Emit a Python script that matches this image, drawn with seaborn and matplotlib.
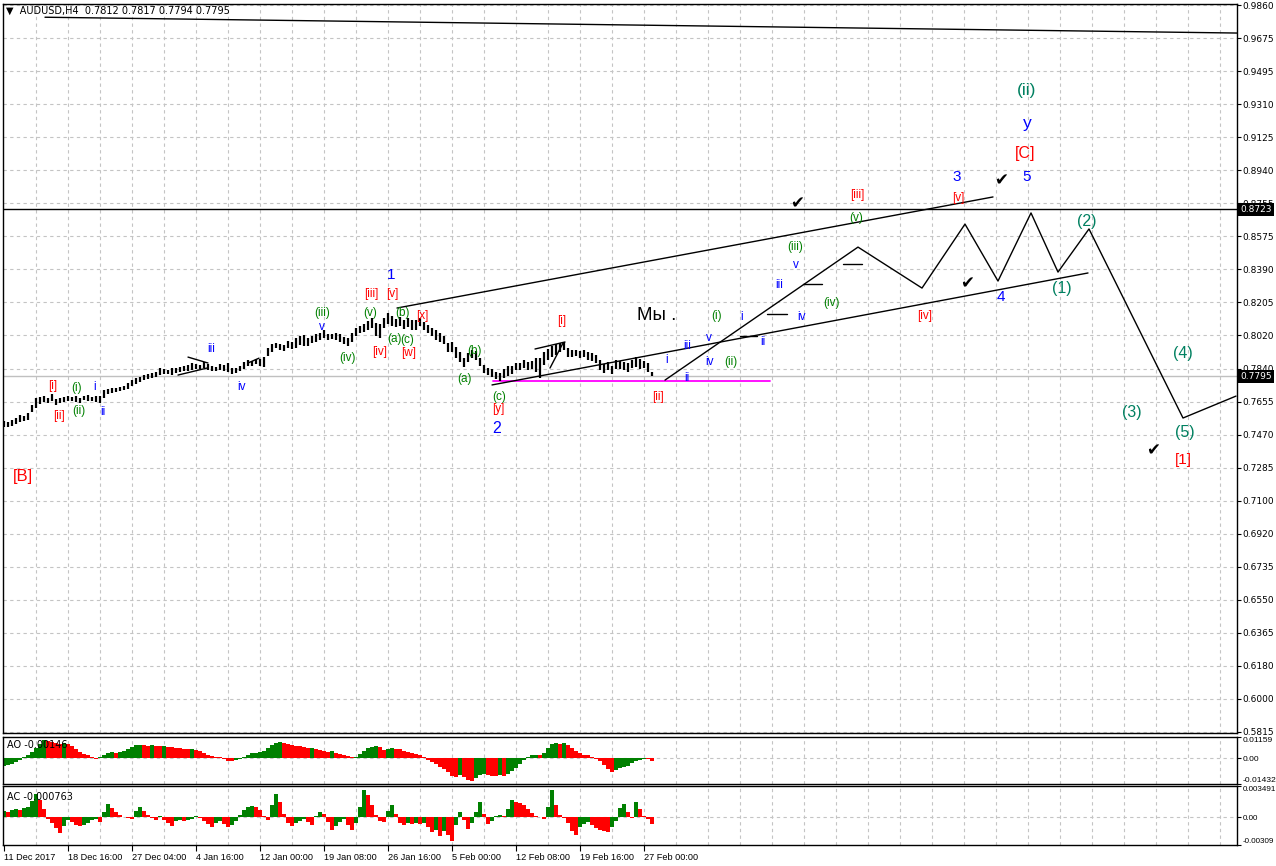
import numpy as np
import pandas as pd
import seaborn as sns
import matplotlib.pyplot as plt
from matplotlib import transforms

sns.set_theme(style='white')
plt.rcParams['font.family'] = ['Liberation Sans', 'DejaVu Sans']

# x axis: one unit = 2 H4 bars
date_labels = ['11 Dec 2017', '18 Dec 16:00', '27 Dec 04:00', '4 Jan 16:00', '12 Jan 00:00',
               '19 Jan 08:00', '26 Jan 16:00', '5 Feb 00:00', '12 Feb 08:00', '19 Feb 16:00',
               '27 Feb 00:00']
price_tick_labels = ['0.5815', '0.6000', '0.6180', '0.6365', '0.6550', '0.6735', '0.6920', '0.7100',
                     '0.7285', '0.7470', '0.7655', '0.7840', '0.8020', '0.8205', '0.8390', '0.8575',
                     '0.8755', '0.8940', '0.9125', '0.9310', '0.9495', '0.9675', '0.9860']

price_high = [0.7545, 0.7539, 0.7550, 0.7561, 0.7578, 0.7573, 0.7589, 0.7634, 0.7673, 0.7678,
              0.7684, 0.7673, 0.7695, 0.7667, 0.7673, 0.7678, 0.7684, 0.7678, 0.7684, 0.7673,
              0.7684, 0.7689, 0.7678, 0.7684, 0.7684, 0.7717, 0.7723, 0.7728, 0.7728, 0.7734,
              0.7740, 0.7756, 0.7773, 0.7784, 0.7790, 0.7801, 0.7806, 0.7812, 0.7817, 0.7840,
              0.7834, 0.7829, 0.7840, 0.7840, 0.7845, 0.7851, 0.7856, 0.7868, 0.7862, 0.7856,
              0.7873, 0.7862, 0.7851, 0.7845, 0.7862, 0.7856, 0.7868, 0.7840, 0.7840, 0.7851,
              0.7873, 0.7884, 0.7879, 0.7890, 0.7890, 0.7901, 0.7951, 0.7973, 0.7979, 0.7973,
              0.7968, 0.7990, 0.7985, 0.8007, 0.8018, 0.8024, 0.8007, 0.8018, 0.8029, 0.8035,
              0.8051, 0.8029, 0.8029, 0.8035, 0.8029, 0.8012, 0.8007, 0.8035, 0.8063, 0.8074,
              0.8085, 0.8102, 0.8118, 0.8090, 0.8085, 0.8118, 0.8146, 0.8129, 0.8113, 0.8124,
              0.8107, 0.8118, 0.8107, 0.8107, 0.8118, 0.8096, 0.8079, 0.8063, 0.8051, 0.8035,
              0.8018, 0.7979, 0.7985, 0.7957, 0.7929, 0.7895, 0.7923, 0.7940, 0.7934, 0.7895,
              0.7856, 0.7840, 0.7834, 0.7817, 0.7812, 0.7834, 0.7851, 0.7851, 0.7868, 0.7868,
              0.7884, 0.7873, 0.7879, 0.7895, 0.7895, 0.7929, 0.7946, 0.7962, 0.7973, 0.7979,
              0.7985, 0.7951, 0.7940, 0.7940, 0.7934, 0.7940, 0.7929, 0.7923, 0.7912, 0.7884,
              0.7862, 0.7873, 0.7851, 0.7884, 0.7879, 0.7873, 0.7868, 0.7884, 0.7901, 0.7890,
              0.7879, 0.7868, 0.7817]
price_low = [0.7511, 0.7511, 0.7517, 0.7528, 0.7539, 0.7545, 0.7550, 0.7595, 0.7617, 0.7639,
             0.7650, 0.7645, 0.7656, 0.7634, 0.7645, 0.7650, 0.7656, 0.7656, 0.7650, 0.7645,
             0.7662, 0.7656, 0.7656, 0.7650, 0.7645, 0.7673, 0.7695, 0.7701, 0.7706, 0.7712,
             0.7717, 0.7723, 0.7740, 0.7751, 0.7762, 0.7773, 0.7778, 0.7784, 0.7790, 0.7801,
             0.7806, 0.7806, 0.7801, 0.7812, 0.7817, 0.7823, 0.7823, 0.7829, 0.7834, 0.7834,
             0.7840, 0.7829, 0.7823, 0.7823, 0.7829, 0.7823, 0.7817, 0.7806, 0.7812, 0.7823,
             0.7834, 0.7851, 0.7851, 0.7862, 0.7851, 0.7845, 0.7907, 0.7929, 0.7951, 0.7940,
             0.7934, 0.7951, 0.7946, 0.7951, 0.7968, 0.7962, 0.7962, 0.7979, 0.7985, 0.7996,
             0.8007, 0.7996, 0.8001, 0.7996, 0.7985, 0.7973, 0.7962, 0.7985, 0.8018, 0.8035,
             0.8040, 0.8051, 0.8063, 0.8018, 0.8007, 0.8063, 0.8085, 0.8074, 0.8068, 0.8074,
             0.8057, 0.8068, 0.8051, 0.8051, 0.8074, 0.8051, 0.8035, 0.8018, 0.7996, 0.7985,
             0.7973, 0.7929, 0.7929, 0.7895, 0.7873, 0.7845, 0.7873, 0.7895, 0.7884, 0.7851,
             0.7812, 0.7801, 0.7790, 0.7778, 0.7767, 0.7784, 0.7795, 0.7806, 0.7829, 0.7829,
             0.7840, 0.7829, 0.7834, 0.7817, 0.7784, 0.7856, 0.7884, 0.7901, 0.7912, 0.7929,
             0.7940, 0.7901, 0.7901, 0.7907, 0.7895, 0.7901, 0.7884, 0.7879, 0.7868, 0.7829,
             0.7812, 0.7829, 0.7806, 0.7834, 0.7834, 0.7829, 0.7817, 0.7840, 0.7845, 0.7834,
             0.7840, 0.7817, 0.7794]

ao_values = [-0.0044, -0.0038, -0.0033, -0.0022, -0.0011, 0.0006, 0.0017, 0.0033, 0.0055, 0.0077,
             0.0099, 0.0094, 0.0088, 0.0083, 0.0080, 0.0083, 0.0077, 0.0066, 0.0050, 0.0033,
             0.0022, 0.0014, 0.0006, -0.0003, 0.0006, 0.0017, 0.0028, 0.0033, 0.0030, 0.0033,
             0.0039, 0.0050, 0.0061, 0.0072, 0.0074, 0.0072, 0.0069, 0.0072, 0.0069, 0.0066,
             0.0069, 0.0063, 0.0061, 0.0058, 0.0055, 0.0050, 0.0049, 0.0052, 0.0044, 0.0039,
             0.0028, 0.0017, 0.0011, 0.0006, 0.0003, -0.0006, -0.0014, -0.0017, -0.0011, -0.0006,
             0.0006, 0.0017, 0.0025, 0.0030, 0.0033, 0.0036, 0.0055, 0.0072, 0.0083, 0.0088,
             0.0083, 0.0077, 0.0072, 0.0069, 0.0066, 0.0061, 0.0055, 0.0058, 0.0052, 0.0044,
             0.0039, 0.0033, 0.0039, 0.0028, 0.0022, 0.0017, 0.0011, 0.0003, 0.0006, 0.0022,
             0.0039, 0.0055, 0.0063, 0.0066, 0.0061, 0.0044, 0.0050, 0.0055, 0.0052, 0.0047,
             0.0039, 0.0033, 0.0028, 0.0022, 0.0014, 0.0003, -0.0011, -0.0022, -0.0033, -0.0050,
             -0.0061, -0.0077, -0.0099, -0.0105, -0.0094, -0.0105, -0.0121, -0.0127, -0.0110, -0.0094,
             -0.0088, -0.0094, -0.0099, -0.0099, -0.0096, -0.0099, -0.0088, -0.0072, -0.0055, -0.0033,
             -0.0011, 0.0006, 0.0017, 0.0019, 0.0017, 0.0028, 0.0055, 0.0077, 0.0083, 0.0077,
             0.0083, 0.0072, 0.0055, 0.0039, 0.0028, 0.0019, 0.0014, 0.0006, -0.0006, -0.0017,
             -0.0039, -0.0061, -0.0077, -0.0066, -0.0055, -0.0050, -0.0044, -0.0028, -0.0017, -0.0011,
             -0.0006, -0.0008, -0.00146]

ac_values = [0.00067, 0.00056, 0.00078, 0.00089, 0.00078, 0.00100, 0.00112, 0.00178, 0.00256, 0.00190,
             0.00089, -0.00022, -0.00067, -0.00123, -0.00178, -0.00100, -0.00033, -0.00056, -0.00089, -0.00100,
             -0.00089, -0.00067, -0.00033, -0.00022, -0.00056, 0.00056, 0.00145, 0.00100, 0.00056, 0.00022,
             0.00006, -0.00011, -0.00022, 0.00067, 0.00112, 0.00067, 0.00022, -0.00011, -0.00033, 0.00011,
             -0.00033, -0.00067, -0.00100, -0.00045, -0.00033, -0.00045, -0.00033, -0.00022, 0.00011, -0.00011,
             -0.00045, -0.00078, -0.00112, -0.00067, -0.00045, -0.00078, -0.00112, -0.00089, -0.00045, 0.00022,
             0.00078, 0.00112, 0.00123, 0.00112, 0.00078, 0.00011, -0.00033, 0.00134, 0.00256, 0.00167,
             0.00033, -0.00067, -0.00100, -0.00067, -0.00045, -0.00022, -0.00056, -0.00089, 0.00011, 0.00056,
             0.00033, -0.00056, -0.00145, -0.00100, -0.00056, -0.00022, -0.00089, -0.00145, -0.00067, 0.00112,
             0.00301, 0.00245, 0.00134, 0.00022, -0.00045, -0.00056, 0.00067, 0.00134, 0.00033, -0.00067,
             -0.00089, -0.00067, -0.00078, -0.00067, -0.00078, -0.00067, -0.00112, -0.00167, -0.00145, -0.00212,
             -0.00156, -0.00201, -0.00268, -0.00089, 0.00056, -0.00033, -0.00134, -0.00067, 0.00056, 0.00167,
             0.00033, -0.00078, -0.00045, 0.00011, 0.00022, 0.00011, 0.00089, 0.00190, 0.00167, 0.00156,
             0.00134, 0.00089, 0.00045, 0.00011, 0.00006, -0.00022, 0.00112, 0.00301, 0.00134, 0.00022,
             -0.00011, -0.00067, -0.00156, -0.00201, -0.00112, -0.00078, -0.00056, -0.00089, -0.00123, -0.00145,
             -0.00156, -0.00167, -0.00112, -0.00045, 0.00100, 0.00145, 0.00056, -0.00011, 0.00167, 0.00089,
             0.00011, -0.00022, -0.000763]

# drawn objects: trend lines (x in 2-bar units, price)
top_line_x = [10.25, 308.25]
top_line_y = [0.9792, 0.9704]
level_line = 0.8723
bid_price = 0.7795
magenta_x = [122.25, 191.5]
magenta_y = [0.7767, 0.7767]
upper_channel_x = [98.25, 247.25]
upper_channel_y = [0.8174, 0.8792]
lower_channel_x = [122.0, 271.0]
lower_channel_y = [0.7746, 0.8369]
small_lines = [([43.5, 50.75], [0.7801, 0.7840]), ([46.0, 51.0], [0.7901, 0.7868]),
               ([61.0, 63.75], [0.7868, 0.7895]), ([132.75, 140.25], [0.7946, 0.7985]),
               ([136.5, 139.75], [0.7840, 0.7979]),
               ([184.0, 188.25], [0.8018, 0.8018]), ([190.75, 195.75], [0.8141, 0.8141]),
               ([199.75, 204.5], [0.8308, 0.8308]), ([209.75, 214.5], [0.8419, 0.8419])]
path_x = [165.25, 213.5, 229.5, 240.25, 248.5, 256.75, 263.5, 271.25, 294.75, 308.0]
path_y = [0.7773, 0.8513, 0.8285, 0.8641, 0.8324, 0.8703, 0.8374, 0.8614, 0.7562, 0.7684]

RED, BLUE, GREEN, TEAL = '#ff0000', '#0000ff', '#008000', '#008060'
wave_labels = [
    ('[i]', 12.25, 0.7740, RED, 8.5), ('[ii]', 13.75, 0.7573, RED, 8.5),
    ('(i)', 18.25, 0.7728, GREEN, 8.5), ('(ii)', 18.75, 0.7601, GREEN, 8.5),
    ('i', 22.75, 0.7734, BLUE, 8.5), ('ii', 24.75, 0.7595, BLUE, 8.5),
    ('iii', 51.75, 0.7946, BLUE, 8.5), ('iv', 59.25, 0.7734, BLUE, 8.5),
    ('(iii)', 79.5, 0.8146, GREEN, 8.5), ('v', 79.5, 0.8068, BLUE, 8.5),
    ('[B]', 4.75, 0.7234, RED, 12), ('(iv)', 86.0, 0.7895, GREEN, 8.5),
    ('(v)', 91.5, 0.8146, GREEN, 8.5), ('[iv]', 94.0, 0.7929, RED, 8.5),
    ('(a)', 97.5, 0.8001, GREEN, 8.5), ('(c)', 100.75, 0.7996, GREEN, 8.5),
    ('(b)', 99.75, 0.8146, GREEN, 8.5), ('[w]', 101.25, 0.7923, RED, 8.5),
    ('[x]', 104.5, 0.8129, RED, 8.5), ('(a)', 115.25, 0.7778, GREEN, 8.5),
    ('(b)', 117.75, 0.7934, GREEN, 8.5), ('(c)', 123.75, 0.7678, GREEN, 8.5),
    ('[y]', 123.5, 0.7612, RED, 8.5), ('[i]', 139.5, 0.8102, RED, 8.5),
    ('1', 96.75, 0.8358, BLUE, 11), ('[iii]', 91.75, 0.8252, RED, 8.5),
    ('[v]', 97.0, 0.8252, RED, 8.5), ('2', 123.25, 0.7506, BLUE, 11.5),
    ('[ii]', 163.5, 0.7678, RED, 8.5), ('i', 165.75, 0.7884, BLUE, 8.5),
    ('iii', 170.75, 0.7962, BLUE, 8.5), ('ii', 170.75, 0.7784, BLUE, 8.5),
    ('(i)', 178.25, 0.8129, GREEN, 8.5), ('i', 184.5, 0.8124, BLUE, 8.5),
    ('v', 176.25, 0.8007, BLUE, 8.5), ('iv', 176.25, 0.7873, BLUE, 8.5),
    ('(ii)', 181.75, 0.7873, GREEN, 8.5), ('ii', 189.75, 0.7985, BLUE, 8.5),
    ('iv', 199.25, 0.8124, BLUE, 8.5), ('iii', 193.75, 0.8302, BLUE, 8.5),
    ('v', 198.0, 0.8413, BLUE, 8.5), ('(iii)', 197.75, 0.8513, GREEN, 8.5),
    ('(iv)', 206.75, 0.8202, GREEN, 8.5), ('(v)', 213.0, 0.8675, GREEN, 8.5),
    ('[iii]', 213.25, 0.8803, RED, 8.5), ('[iv]', 230.25, 0.8129, RED, 8.5),
    ('(ii)', 255.75, 0.9387, TEAL, 12.5), ('y', 255.75, 0.9203, BLUE, 12.5),
    ('[C]', 255.25, 0.9031, RED, 11.5), ('3', 238.25, 0.8903, BLUE, 11),
    ('5', 255.75, 0.8903, BLUE, 11), ('[v]', 238.5, 0.8786, RED, 8.5),
    ('(2)', 270.75, 0.8653, TEAL, 11.5), ('4', 249.25, 0.8235, BLUE, 11),
    ('(1)', 264.5, 0.8285, TEAL, 11.5), ('(4)', 294.75, 0.7923, TEAL, 11.5),
    ('(3)', 282.0, 0.7595, TEAL, 11.5), ('(5)', 295.25, 0.7479, TEAL, 11.5),
    ('[1]', 294.75, 0.7328, RED, 11),
]
check_marks = [(198.25, 0.8758), (249.25, 0.8886), (240.75, 0.8313), (287.25, 0.7384)]
note_text = ('Мы .', 163.25, 0.8135)

W, H = 1276, 866
fig = plt.figure(figsize=(W / 100, H / 100), dpi=100)
fig.patch.set_facecolor('white')

def frac(left, top, right, bottom):
    return [left / W, 1 - bottom / H, (right - left) / W, (bottom - top) / H]

ax = fig.add_axes(frac(3, 4, 1237, 733))
ax_ao = fig.add_axes(frac(3, 737, 1237, 784), sharex=ax)
ax_ac = fig.add_axes(frac(3, 786, 1237, 845), sharex=ax)

grid_kw = dict(color='#c4c4c4', lw=0.8, ls=(0, (3, 3)), zorder=0)
vgrid = np.arange(0, 39) * 8 - 0.1
price_ticks = np.linspace(0.5815, 0.9860, 23)
TICK_FS = 6.6

for a in (ax, ax_ao, ax_ac):
    a.set_facecolor('white')
    for s in a.spines.values():
        s.set_color('black')
        s.set_linewidth(1.0)
    for gx in vgrid[1:]:
        a.axvline(gx, **grid_kw)
    a.yaxis.tick_right()
    a.tick_params(axis='y', which='both', direction='out', length=3, width=0.8,
                  labelsize=6.1, pad=1.2, colors='black', right=True, left=False)
    a.tick_params(axis='x', bottom=False, labelbottom=False)

# main price panel
for py in price_ticks:
    ax.axhline(py, **grid_kw)
idx = np.arange(len(price_high))
ax.vlines(idx, price_low, price_high, color='black', lw=1.6, zorder=3)
ax.axhline(bid_price, color='#c0c0c0', lw=1, zorder=1)
ax.axhline(level_line, color='black', lw=1, zorder=2)

sns.lineplot(x=top_line_x, y=top_line_y, color='black', lw=1, ax=ax)
sns.lineplot(x=magenta_x, y=magenta_y, color='#ff00ff', lw=1.3, ax=ax)
sns.lineplot(x=upper_channel_x, y=upper_channel_y, color='black', lw=1, ax=ax)
sns.lineplot(x=lower_channel_x, y=lower_channel_y, color='black', lw=1, ax=ax)
for lx, ly in small_lines:
    ax.plot(lx, ly, color='black', lw=1)
sns.lineplot(x=path_x, y=path_y, sort=False, color='black', lw=1, ax=ax)

lbl_font = ['Liberation Sans', 'DejaVu Sans']
for txt, x, y, col, fs in wave_labels:
    ax.text(x, y, txt, color=col, fontsize=fs, ha='center', va='center', family=lbl_font, zorder=5)
for x, y in check_marks:
    ax.text(x, y, '✔', color='black', fontsize=12, ha='center', va='center', family='DejaVu Sans', zorder=5)
ax.text(note_text[1], note_text[2], note_text[0], color='black', fontsize=13.5, ha='center', va='center',
        family=lbl_font, zorder=5)

ax.set_xlim(-0.25, 308.25)
ax.set_ylim(0.58094, 0.98656)
ax.set_yticks(price_ticks)
ax.set_yticklabels(price_tick_labels, family=['DejaVu Sans'], fontsize=6.5)

blend = transforms.blended_transform_factory(ax.transAxes, ax.transData)
for val, s in ((level_line, '0.8723'), (bid_price, '0.7795')):
    ax.text(1.0025, val, s, transform=blend, color='white', fontsize=6.5, va='center', ha='left',
            family=['DejaVu Sans'], bbox=dict(facecolor='black', edgecolor='none', pad=1.4),
            zorder=6, clip_on=False)

fig.text(6 / W, 1 - 10.5 / H, '▼  AUDUSD,H4  0.7812 0.7817 0.7794 0.7795', fontsize=7, va='center',
         ha='left', color='black', family=['DejaVu Sans'])


def oscillator(a, values, lo, hi, name, ticklabels):
    vals = np.asarray(values)
    prev = np.concatenate([[vals[0] - 1], vals[:-1]])
    df = pd.DataFrame({'x': np.arange(len(vals)), 'v': vals,
                       'c': np.where(vals > prev, 'up', 'down')})
    sns.barplot(data=df, x='x', y='v', hue='c', palette={'up': '#008000', 'down': '#ff0000'},
                native_scale=True, dodge=False, width=1.0, errorbar=None, legend=False,
                saturation=1, linewidth=0, ax=a)
    a.axhline(0, **grid_kw)
    a.set_ylim(lo, hi)
    a.set_yticks([hi, 0, lo])
    labs = a.set_yticklabels(ticklabels)
    labs[0].set_va('top')
    labs[2].set_va('bottom')
    a.set_ylabel('')
    a.set_xlabel('')
    a.text(0.0035, 0.82, name, transform=a.transAxes, fontsize=7, va='center', ha='left', color='black',
           family=['DejaVu Sans'])


oscillator(ax_ao, ao_values, -0.01432, 0.01159, 'AO -0.00146', ['0.01159', '0.00', '-0.01432'])
oscillator(ax_ac, ac_values, -0.00309, 0.003491, 'AC -0.000763', ['0.003491', '0.00', '-0.00309'])
ax_ac.tick_params(axis='y', labelsize=5.8)

ax_ac.set_xlim(-0.25, 308.25)
date_pos = np.arange(len(date_labels)) * 16 - 0.1
ax_ac.set_xticks(date_pos)
ax_ac.set_xticklabels(date_labels)
ax_ac.tick_params(axis='x', bottom=True, labelbottom=True, direction='out', length=4, width=0.8,
                  labelsize=TICK_FS, pad=1.5, colors='black')
for t in ax_ac.get_xticklabels():
    t.set_ha('left')
for a in (ax, ax_ao):
    a.tick_params(axis='x', bottom=False, labelbottom=False)

fig.savefig('out.png', dpi=100, facecolor='white')
